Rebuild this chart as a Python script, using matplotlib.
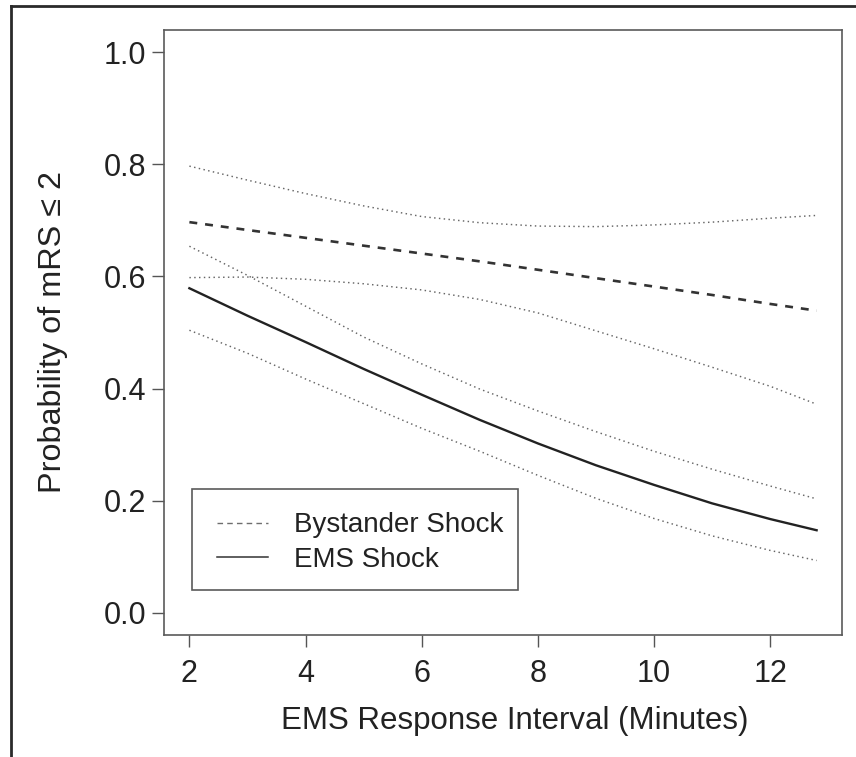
import matplotlib
matplotlib.use("Agg")
import matplotlib.pyplot as plt
from matplotlib.lines import Line2D
from matplotlib.patches import Rectangle

plt.rcParams["font.family"] = ["Liberation Sans", "DejaVu Sans"]

# response interval (minutes)
minutes = [2, 3, 4, 5, 6, 7, 8, 9, 10, 11, 12, 12.8]

# bystander shock: fitted probability and 95% band
bystander = [0.697, 0.683, 0.669, 0.655, 0.641, 0.627, 0.612, 0.597, 0.582, 0.567, 0.551, 0.539]
bystander_hi = [0.797, 0.772, 0.748, 0.726, 0.707, 0.696, 0.690, 0.689, 0.692, 0.697, 0.704, 0.709]
bystander_lo = [0.598, 0.599, 0.595, 0.587, 0.576, 0.559, 0.535, 0.503, 0.471, 0.438, 0.404, 0.372]

# EMS shock: fitted probability and 95% band
ems = [0.579, 0.530, 0.483, 0.435, 0.389, 0.344, 0.302, 0.263, 0.228, 0.195, 0.167, 0.147]
ems_hi = [0.654, 0.602, 0.547, 0.492, 0.444, 0.399, 0.360, 0.323, 0.288, 0.256, 0.226, 0.203]
ems_lo = [0.504, 0.463, 0.417, 0.373, 0.329, 0.288, 0.245, 0.204, 0.168, 0.137, 0.111, 0.093]

x_ticks = [2, 4, 6, 8, 10, 12]
y_ticks = [0.0, 0.2, 0.4, 0.6, 0.8, 1.0]

W, H = 856, 757
fig = plt.figure(figsize=(W / 100, H / 100), dpi=100)
ax = fig.add_axes([164.3 / W, 1 - 635 / H, 677.4 / W, 605 / H])

dot = dict(color="#666666", lw=1.05, linestyle=(0, (1, 2.3)))
for band in (bystander_hi, bystander_lo, ems_hi, ems_lo):
    ax.plot(minutes, band, **dot)
ax.plot(minutes, bystander, color="#333333", lw=1.9, linestyle=(0, (3.0, 3.0)))
ax.plot(minutes, ems, color="#222222", lw=1.7)

ax.set_xlim(1.568, 13.232)
ax.set_ylim(-0.04, 1.04)
ax.set_xticks(x_ticks)
ax.set_xticklabels([str(t) for t in x_ticks])
ax.set_yticks(y_ticks)
ax.set_yticklabels([f"{t:.1f}" for t in y_ticks])
ax.tick_params(axis="both", direction="out", length=8.6, width=1.0,
               color="#555555", labelsize=22, labelcolor="#222222")
ax.tick_params(axis="x", pad=8.5)
ax.tick_params(axis="y", pad=4.3)
for s in ax.spines.values():
    s.set_color("#5a5a5a")
    s.set_linewidth(1.2)

# axis titles
fig.text(515 / W, 1 - 721 / H, "EMS Response Interval (Minutes)",
         fontsize=22.5, color="#222222", ha="center", va="center")
fig.text(53 / W, 1 - 332 / H, "Probability of mRS \u2264 2", rotation=90,
         fontsize=23.3, color="#222222", ha="center", va="center")

# legend box drawn in axes fraction
def fx(px):
    return (px - 164.3) / 677.4

def fy(py):
    return (635 - py) / 605

ax.add_patch(Rectangle((fx(191.5), fy(590)), fx(518) - fx(191.5), fy(489) - fy(590),
                       transform=ax.transAxes, fill=False, ec="#5a5a5a", lw=1.2))
ax.add_line(Line2D([fx(217), fx(268)], [fy(522.5)] * 2, transform=ax.transAxes,
                   color="#6e6e6e", lw=1.0, linestyle=(0, (4, 3))))
ax.add_line(Line2D([fx(217), fx(268)], [fy(557)] * 2, transform=ax.transAxes,
                   color="#333333", lw=1.1))
ax.text(fx(294), fy(531.7), "Bystander Shock", transform=ax.transAxes,
        fontsize=20, color="#222222", va="baseline")
ax.text(fx(294), fy(566.7), "EMS Shock", transform=ax.transAxes,
        fontsize=20, color="#222222", va="baseline")

# outer frame (left and top edges visible)
fig.add_artist(Line2D([11 / W, 11 / W], [0, 1 - 5.5 / H], transform=fig.transFigure,
                      color="#2a2a2a", lw=2.0))
fig.add_artist(Line2D([11 / W, 1], [1 - 5.5 / H] * 2, transform=fig.transFigure,
                      color="#2a2a2a", lw=2.0))

fig.savefig("out.png", dpi=100)
